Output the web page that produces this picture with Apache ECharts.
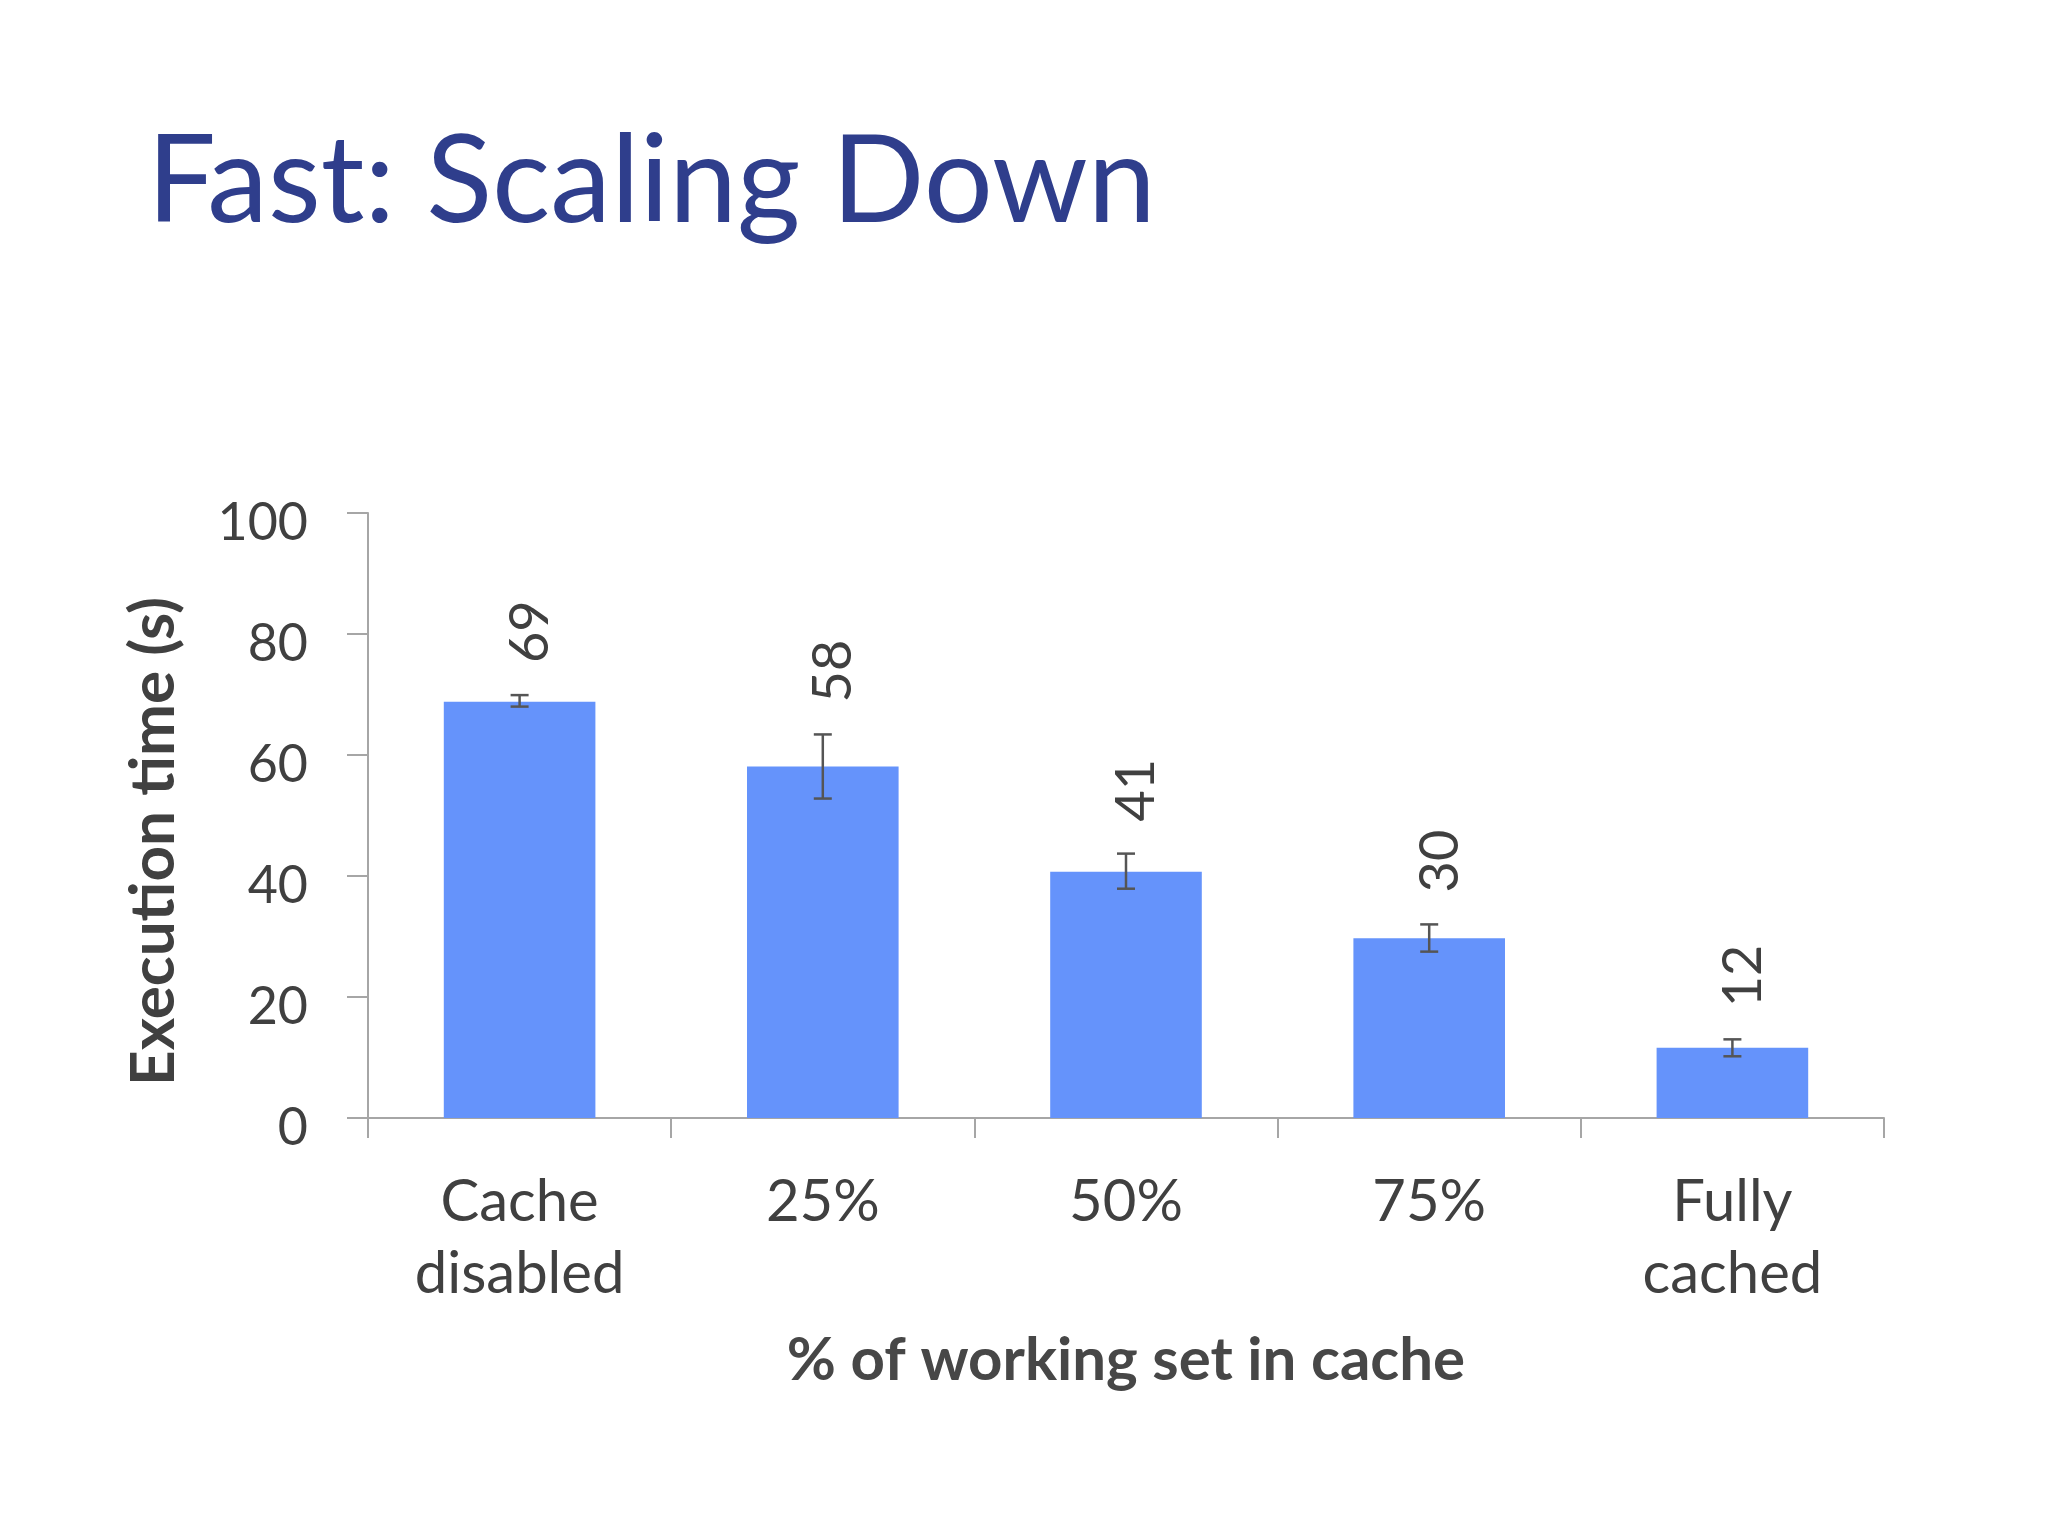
<!DOCTYPE html>
<html><head><meta charset="utf-8">
<script src="https://cdn.jsdelivr.net/npm/echarts@6/dist/echarts.min.js"></script>
<style>html,body{margin:0;padding:0;background:#fff}#c{width:2048px;height:1536px}</style>
</head><body><div id="c"></div>
<script>
const titleText = 'Fast: Scaling Down';
const categories = ['Cache\ndisabled', '25%', '50%', '75%', 'Fully\ncached'];
const execTime = [68.8, 58.1, 40.7, 29.7, 11.6];
const errLow = [68.0, 52.8, 37.9, 27.5, 10.2];
const errHigh = [69.9, 63.4, 43.7, 32.0, 13.0];
const yMin = 0, yMax = 100, yInterval = 20;
const xAxisName = '% of working set in cache';
const yAxisName = 'Execution time (s)';

const valueLabels = execTime.map(v => String(Math.round(v)));
const errData = categories.map((c, i) => [i, errLow[i], errHigh[i]]);

const chart = echarts.init(document.getElementById('c'));
const txt = '#404040';
const axisGrey = '#a6a6a6';
chart.setOption({
  backgroundColor: '#ffffff',
  animation: false,
  title: {
    text: titleText, left: 142, top: 117,
    textStyle: { fontFamily: 'Lato', fontSize: 122, fontWeight: 'normal', color: '#2f3e8c' }
  },
  grid: { left: 368, right: 164, top: 513, bottom: 418, containLabel: false },
  xAxis: {
    type: 'category', data: categories,
    name: xAxisName, nameLocation: 'middle', nameGap: 213,
    nameTextStyle: { fontFamily: 'Lato', fontSize: 60, fontWeight: 'bold', color: '#474747' },
    axisLine: { lineStyle: { color: axisGrey, width: 2 } },
    axisTick: { show: true, length: 20, lineStyle: { color: axisGrey, width: 2 } },
    axisLabel: { fontFamily: 'Lato', fontSize: 58, lineHeight: 72, color: txt, margin: 48 },
    splitLine: { show: false }
  },
  yAxis: {
    type: 'value', min: yMin, max: yMax, interval: yInterval,
    name: yAxisName, nameLocation: 'middle', nameGap: 183, nameRotate: 90,
    nameTextStyle: { fontFamily: 'Lato', fontSize: 62, fontWeight: 'bold', color: '#404040', padding: [0, 52, 0, 0] },
    axisLine: { show: true, lineStyle: { color: axisGrey, width: 2 } },
    axisTick: { show: true, length: 21, lineStyle: { color: axisGrey, width: 2 } },
    axisLabel: { fontFamily: 'Lato', fontSize: 52, color: txt, margin: 60, verticalAlign: 'top', lineHeight: 20 },
    splitLine: { show: false }
  },
  series: [
    {
      type: 'bar', data: execTime, barCategoryGap: '50%',
      itemStyle: { color: '#6593fb' }
    },
    {
      type: 'custom', data: errData, z: 5,
      renderItem: function (params, api) {
        const i = api.value(0);
        const lo = api.coord([i, api.value(1)]);
        const hi = api.coord([i, api.value(2)]);
        const x = hi[0];
        const cap = 9;
        const st = { stroke: '#555555', lineWidth: 2.5 };
        return {
          type: 'group', children: [
            { type: 'line', shape: { x1: x, y1: hi[1], x2: x, y2: lo[1] }, style: st },
            { type: 'line', shape: { x1: x - cap, y1: hi[1], x2: x + cap, y2: hi[1] }, style: st },
            { type: 'line', shape: { x1: x - cap, y1: lo[1], x2: x + cap, y2: lo[1] }, style: st },
            { type: 'text', x: x + 11, y: hi[1] - 32, rotation: Math.PI / 2,
              style: { text: valueLabels[i], fill: txt, fontFamily: 'Lato', fontSize: 54, align: 'left', verticalAlign: 'middle' } }
          ]
        };
      }
    }
  ]
});
</script></body></html>
